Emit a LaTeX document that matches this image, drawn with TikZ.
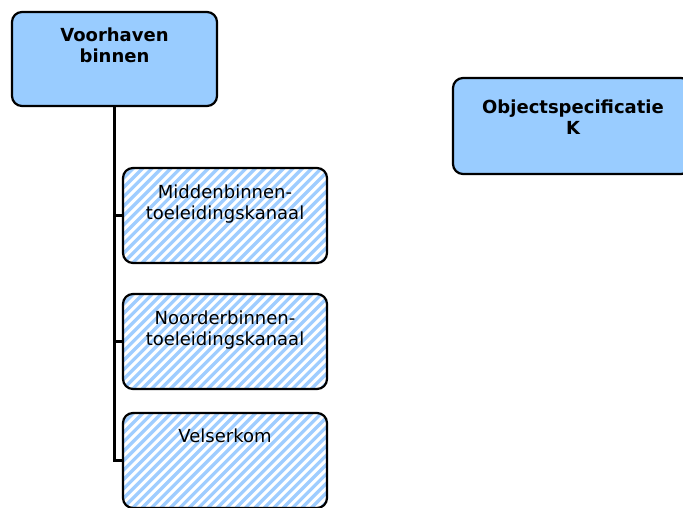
\documentclass[tikz,border=0pt]{standalone}
\usepackage{fontspec}
\setmainfont{DejaVu Sans}
\definecolor{boxblue}{HTML}{99CCFF}
\definecolor{hatchblue}{HTML}{9FCDFF}
\tikzset{
  boxbase/.style={draw=black, line width=2.2pt, rounded corners=10pt,
    minimum width=#1, inner sep=0pt, outer sep=0pt, anchor=north west},
  parentbox/.style={boxbase=205pt, minimum height=94pt, fill=boxblue},
  stripe/.style={draw=hatchblue, line width=3.3pt},
  % rounded box filled with diagonal light-blue stripes
  childbox/.style={boxbase=204pt, minimum height=95pt, fill=white,
    path picture={
      \foreach \k in {-122,-112.6,...,220}
        \draw[stripe] ([xshift=\k pt]path picture bounding box.south west)
          -- ++(110,-110);
    }},
  boldlabel/.style={font=\bfseries\fontsize{18}{21}\selectfont, align=center,
    inner sep=0pt, anchor=base},
  plainlabel/.style={font=\fontsize{18}{21}\selectfont, align=center,
    inner sep=0pt, anchor=base},
  link/.style={draw=black, line width=2.4pt}
}
\begin{document}
\begin{tikzpicture}[x=1pt,y=-1pt]
\useasboundingbox (0,0) rectangle (683,507);
\clip (0,0) rectangle (683,507);

% parent blocks
\node[parentbox] (vb) at (12,12) {};
\node[boldlabel] (vbtext) at (114.5,62) {Voorhaven\\binnen};
\node[parentbox, minimum width=238pt, minimum height=96pt] (os) at (453,78) {};
\node[boldlabel] (ostext) at (573,134) {Objectspecificatie\\K};

% child blocks
\node[childbox] (c1) at (123,168) {};
\node[plainlabel] (c1text) at (225,219) {Middenbinnen-\\toeleidingskanaal};
\node[childbox] (c2) at (123,294) {};
\node[plainlabel] (c2text) at (225,345) {Noorderbinnen-\\toeleidingskanaal};
\node[childbox] (c3) at (123,413) {};
\node[plainlabel] (c3text) at (225,442) {Velserkom};

% tree connectors
\draw[link] (vb.south) -- (vb.south |- c3.west) -- (c3.west);
\draw[link] (vb.south |- c1.west) -- (c1.west);
\draw[link] (vb.south |- c2.west) -- (c2.west);
\end{tikzpicture}
\end{document}
